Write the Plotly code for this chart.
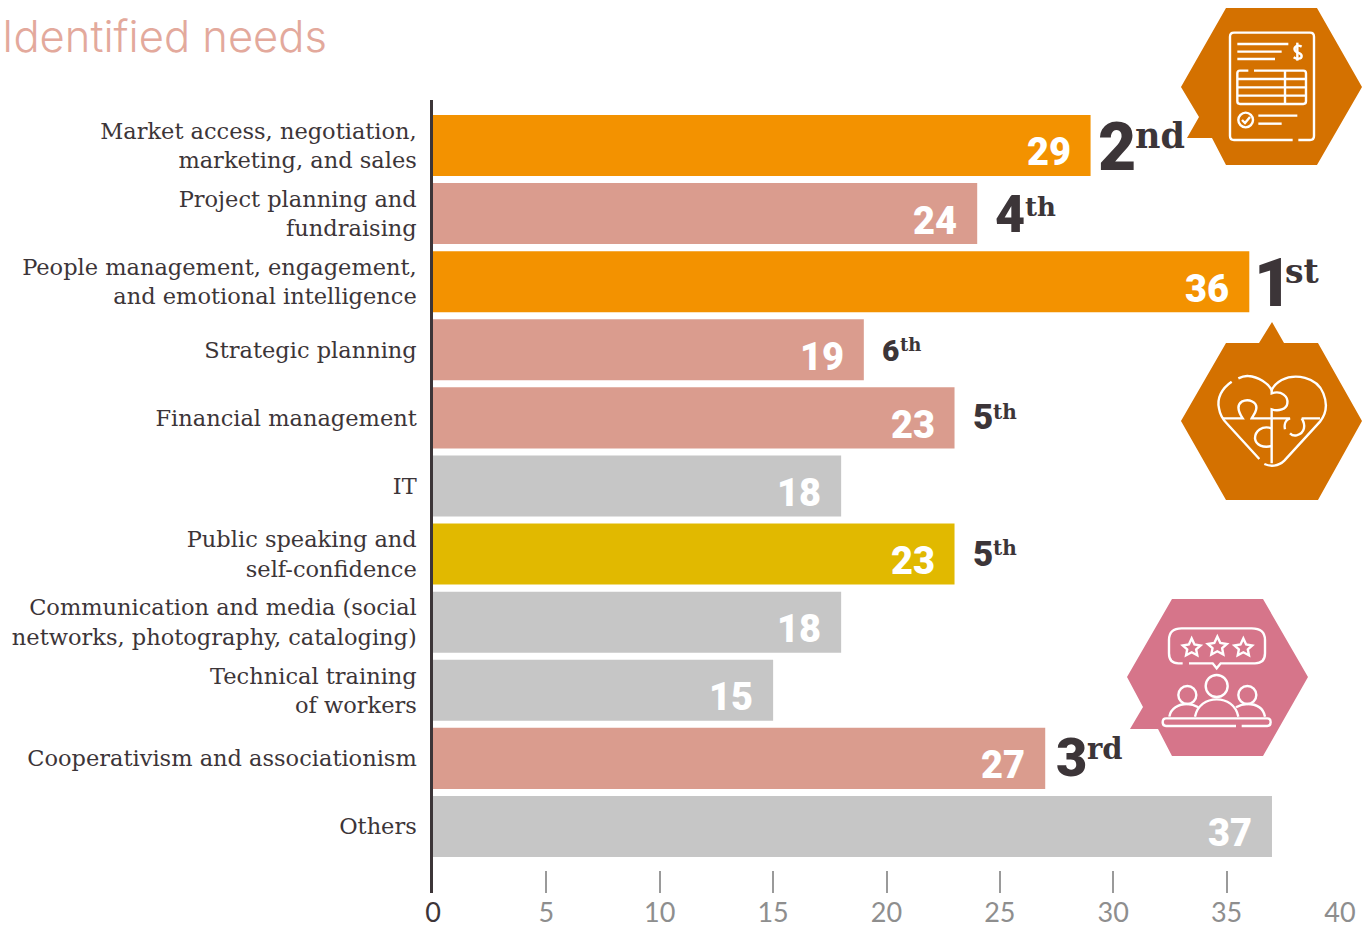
import re
import plotly.graph_objects as go

categories = ["Market access, negotiation,<br>marketing, and sales", "Project planning and<br>fundraising",
              "People management, engagement,<br>and emotional intelligence", "Strategic planning",
              "Financial management", "IT", "Public speaking and<br>self-confidence",
              "Communication and media (social<br>networks, photography, cataloging)",
              "Technical training<br>of workers", "Cooperativism and associationism", "Others"]
values = [29, 24, 36, 19, 23, 18, 23, 18, 15, 27, 37]
bar_colors = ["#F39200", "#DA9C8E", "#F39200", "#DA9C8E", "#DA9C8E", "#C6C6C6", "#E1B900", "#C6C6C6", "#C6C6C6", "#DA9C8E", "#C6C6C6"]
rank_numbers = ["2", "4", "1", "6", "5", None, "5", None, None, "3", None]
rank_suffixes = ["nd", "th", "st", "th", "th", None, "th", None, None, "rd", None]
x_ticks = [0, 5, 10, 15, 20, 25, 30, 35, 40]
x_tick_text = ['<span style="color:#3C3538">0</span>', "5", "10", "15", "20", "25", "30", "35", "40"]

W, H = 1370, 926
DARK = "#3C3538"
ORANGE = "#D47100"
PINK = "#D6758A"
# rank -> number size, suffix size, number dx, suffix dx, number dy, suffix dy
rank_style = {"1": (66, 33, 3, 34, -2, 10), "2": (66, 35, 5, 42, -2, 10), "3": (54, 29, 9, 40, 1, 9),
              "4": (52, 26, 16, 46, -1, 7), "5": (35, 20, 16, 36, 0, 6), "6": (30, 18, 16, 34, -1, 5)}


def fx(px):
    return px / W


def fy(py):
    return 1 - py / H


def ppath(d, ox=0, oy=0, s=1.0):
    out = []
    for cmd, args in re.findall(r"([MLCQZ])([^MLCQZ]*)", d):
        nums = [float(v) for v in args.split()]
        pts = []
        for i in range(0, len(nums), 2):
            pts.append(f"{fx(ox + nums[i] * s):.5f},{fy(oy + nums[i + 1] * s):.5f}")
        out.append(cmd + " ".join(pts))
    return " ".join(out)


def circle(cx, cy, r):
    k = 0.5523 * r
    return (f"M {cx-r} {cy} C {cx-r} {cy-k} {cx-k} {cy-r} {cx} {cy-r} C {cx+k} {cy-r} {cx+r} {cy-k} {cx+r} {cy} "
            f"C {cx+r} {cy+k} {cx+k} {cy+r} {cx} {cy+r} C {cx-k} {cy+r} {cx-r} {cy+k} {cx-r} {cy} Z ")


def star(cx, cy, r):
    pts = [(-0.95, -0.2), (-0.3, -0.3), (0, -0.95), (0.3, -0.3), (0.95, -0.2), (0.48, 0.22), (0.6, 0.85), (0, 0.53), (-0.6, 0.85), (-0.48, 0.22)]
    return "M " + " L ".join(f"{cx+a*r} {cy+b*r}" for a, b in pts) + " Z "


shapes = []


def fill(d, color):
    shapes.append(dict(type="path", xref="paper", yref="paper", path=ppath(d), fillcolor=color, line=dict(width=0), layer="above"))


def stroke(d, ox, oy, width=2.4):
    shapes.append(dict(type="path", xref="paper", yref="paper", path=ppath(d, ox, oy, 1 / 3), line=dict(color="white", width=width), layer="above"))


fill("M 1226 8 L 1317 8 L 1362 87 L 1317 165 L 1226 165 L 1212 138 L 1187 138 L 1199 117 L 1181 87 Z", ORANGE)
fill("M 1181 421 L 1226 343 L 1259 343 L 1272 322 L 1284 343 L 1318 343 L 1362 421 L 1318 500 L 1226 500 Z", ORANGE)
fill("M 1172 599 L 1263 599 L 1308 677 L 1263 756 L 1172 756 L 1158 729 L 1130 729 L 1143 707 L 1127 677 Z", PINK)

# document icon
o1 = (1080, 0)
stroke("M 638 420 L 462 420 C 454 420 450 416 450 408 L 450 110 C 450 102 454 98 462 98 L 690 98 C 698 98 702 102 702 110 L 702 408 C 702 416 698 420 690 420 L 655 420", *o1)
for d in ["M 472 132 L 625 132", "M 472 155 L 605 155", "M 472 177 L 585 177",
          "M 505 212 L 480 212 C 474 212 472 214 472 220 L 472 304 C 472 310 474 312 480 312 L 670 312 C 676 312 678 310 678 304 L 678 220 C 678 214 676 212 670 212 L 522 212",
          "M 472 237 L 678 237", "M 472 262 L 678 262", "M 472 287 L 678 287", "M 615 212 L 615 312",
          circle(497, 360, 22), "M 486 360 L 495 369 L 510 351", "M 535 347 L 652 347", "M 535 371 L 605 371",
          "M 665 140 C 650 132 640 142 645 152 C 650 160 665 158 665 168 C 665 178 650 178 641 172", "M 652 128 L 652 182"]:
    stroke(d, *o1)

# heart icon
o2 = (1170, 310)
for d in ["M 185 215 C 155 235 140 265 147 295 C 150 315 158 328 172 342 L 268 447",
          "M 283 462 C 300 470 325 470 343 452 L 450 335 C 470 310 472 280 460 250 C 440 200 375 190 335 210 C 320 218 310 230 305 240 C 295 220 265 200 235 198 C 225 197 215 200 205 205",
          "M 158 325 L 218 325 C 205 305 200 285 215 275 C 235 265 265 275 258 300 C 256 310 248 318 245 325 L 305 325 L 360 325 C 345 330 342 345 345 358",
          "M 305 240 L 305 250 C 335 240 355 260 352 280 C 350 298 325 305 305 298 L 305 460",
          "M 395 325 L 450 325 M 395 325 C 408 345 405 370 380 376 C 372 378 365 375 360 370",
          "M 305 355 C 275 345 255 365 255 385 C 257 405 280 415 305 408"]:
    stroke(d, *o2)

# people icon
o3 = (1110, 590)
for d in ["M 218 220 L 205 220 C 185 220 177 210 177 190 L 177 150 C 177 125 190 115 215 115 L 425 115 C 450 115 465 125 465 150 L 465 190 C 465 210 455 220 435 220 L 332 220 L 320 235 L 308 220 L 237 220",
          star(245, 172, 28), star(322, 168, 30), star(400, 172, 28),
          circle(320, 288, 33), circle(232, 315, 27), circle(412, 315, 27),
          "M 255 380 C 262 345 290 328 320 328 C 350 328 378 345 385 380",
          "M 178 380 C 182 355 205 342 232 342 C 245 342 255 346 265 352",
          "M 378 352 C 388 346 400 342 412 342 C 440 342 460 355 465 380",
          "M 378 408 L 168 408 C 160 408 158 404 158 397 C 158 390 160 385 168 385 L 472 385 C 480 385 482 390 482 397 C 482 404 480 408 472 408 L 395 408"]:
    stroke(d, *o3)

annotations = [dict(xref="paper", yref="paper", x=0, y=fy(36), xanchor="left", yanchor="middle", text="Identified needs", showarrow=False,
                    font=dict(family="Inter", size=43.5, color="#E3A99C", weight=300))]

for i, v in enumerate(values):
    annotations.append(dict(x=v, y=categories[i], xanchor="right", yanchor="middle", xshift=-18, yshift=-7, text=str(v), showarrow=False,
                            font=dict(family="Roboto", size=38, color="white", weight=900)))
    if rank_numbers[i]:
        ns, ss, ndx, sdx, ndy, sdy = rank_style[rank_numbers[i]]
        annotations.append(dict(x=v, y=categories[i], xanchor="left", yanchor="middle", xshift=ndx, yshift=ndy, text=rank_numbers[i], showarrow=False,
                                font=dict(family="Roboto", size=ns, color=DARK, weight=900)))
        annotations.append(dict(x=v, y=categories[i], xanchor="left", yanchor="middle", xshift=sdx, yshift=sdy, text=rank_suffixes[i], showarrow=False,
                                font=dict(family="DejaVu Serif", size=ss, color=DARK, weight=700)))

fig = go.Figure(go.Bar(y=categories, x=values, orientation="h", marker=dict(color=bar_colors, line=dict(width=0)), width=0.896, hoverinfo="skip"))
fig.update_layout(
    width=W, height=H, margin=dict(l=0, r=0, t=0, b=0), paper_bgcolor="white", plot_bgcolor="white", showlegend=False,
    shapes=shapes, annotations=annotations,
    xaxis=dict(domain=[fx(433), fx(1340)], range=[0, 40], tickmode="array", tickvals=x_ticks, ticktext=x_tick_text, automargin=False,
               ticks="inside", ticklen=22, tickwidth=2, tickcolor="#9A9A9A", showgrid=False, zeroline=False, showline=False,
               tickfont=dict(family="Lato", size=27, color="#8E8E8E"), ticklabelstandoff=1, anchor="y"),
    yaxis=dict(domain=[fy(893), fy(100)], type="category", range=[10.977, -0.668], ticks="outside", ticklen=9, tickcolor="rgba(0,0,0,0)",
               automargin=False, showgrid=False, zeroline=False, showline=True, linecolor=DARK, linewidth=2.5,
               tickfont=dict(family="DejaVu Serif", size=22.5, color=DARK), anchor="x"),
)
fig.write_html("out.html", post_script="document.body.style.margin='0';document.documentElement.style.overflow='hidden';", config=dict(displayModeBar=False))
